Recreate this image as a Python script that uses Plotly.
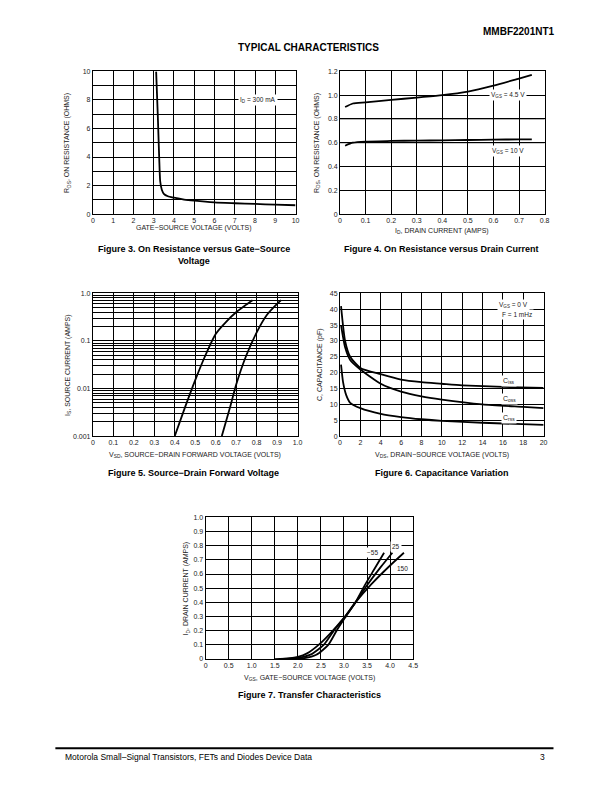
import plotly.graph_objects as go

# ---------------- DATA ----------------
# Figure 3: On resistance vs gate-source voltage (ID = 300 mA)
f3_vgs = [3.12, 3.2, 3.27, 3.32, 3.4, 3.5, 3.7, 4.0, 4.5, 5.0, 6.0, 7.0, 8.0, 9.0, 10.0]
f3_rds = [10.0, 7.0, 4.0, 2.3, 1.7, 1.42, 1.25, 1.15, 1.02, 0.94, 0.82, 0.76, 0.71, 0.66, 0.62]

# Figure 4: On resistance vs drain current
f4_id = [0.02, 0.05, 0.1, 0.2, 0.3, 0.4, 0.5, 0.6, 0.7, 0.75]
f4_r45 = [0.90, 0.93, 0.94, 0.96, 0.98, 1.0, 1.03, 1.08, 1.14, 1.17]
f4_r10 = [0.575, 0.60, 0.61, 0.615, 0.618, 0.62, 0.623, 0.626, 0.628, 0.628]

# Figure 5: Source-drain forward voltage
f5_v1 = [0.40, 0.45, 0.50, 0.55, 0.60, 0.65, 0.70, 0.75, 0.78]
f5_i1 = [0.001, 0.004, 0.015, 0.05, 0.14, 0.25, 0.40, 0.58, 0.72]
f5_v2 = [0.63, 0.67, 0.70, 0.75, 0.80, 0.85, 0.90, 0.92]
f5_i2 = [0.001, 0.004, 0.012, 0.05, 0.15, 0.35, 0.60, 0.72]

# Figure 6: Capacitance variation
f6_v_iss = [0.1, 0.5, 1, 2, 4, 6, 8, 10, 12, 16, 20]
f6_ciss = [41, 30, 25, 21.5, 19.5, 17.8, 17, 16.5, 16, 15.5, 15.2]
f6_v_oss = [0.1, 0.5, 1, 2, 4, 6, 8, 10, 14, 18, 20]
f6_coss = [35, 28, 24, 21, 16.5, 14, 12.5, 11.5, 10, 9.2, 8.8]
f6_v_rss = [0.1, 0.3, 0.6, 1, 2, 4, 6, 8, 10, 14, 20]
f6_crss = [22.5, 17, 13, 10.5, 8.8, 7, 6, 5.3, 4.8, 4.2, 3.5]

# Figure 7: Transfer characteristics (TA = -55, 25, 150 C)
f7_v150 = [1.5, 1.8, 2.0, 2.2, 2.45, 2.7, 3.0, 3.25, 3.6, 4.0, 4.3]
f7_i150 = [0.0, 0.005, 0.015, 0.04, 0.10, 0.18, 0.29, 0.40, 0.53, 0.66, 0.75]
f7_v25 = [1.6, 2.0, 2.3, 2.56, 2.78, 3.0, 3.25, 3.5, 3.8, 4.05]
f7_i25 = [0.0, 0.008, 0.035, 0.10, 0.20, 0.29, 0.40, 0.52, 0.65, 0.75]
f7_vm55 = [1.8, 2.1, 2.4, 2.66, 2.84, 3.0, 3.25, 3.45, 3.65, 3.87]
f7_im55 = [0.0, 0.004, 0.03, 0.10, 0.20, 0.28, 0.40, 0.52, 0.63, 0.75]

# ---------------- LAYOUT HELPERS ----------------
W, H = 600, 776
def px(x):
    return x / W
def py(y):
    return 1 - y / H

FONT = "Liberation Sans, Arial, sans-serif"
TICKF = dict(family=FONT, size=7, color="#222")
GRIDMINOR = dict(showgrid=True, gridcolor="black", gridwidth=1, ticks="")

def axstyle(**kw):
    d = dict(showline=True, mirror=True, linecolor="black", linewidth=1,
             showgrid=True, gridcolor="black", gridwidth=1, zeroline=False,
             ticks="", tickfont=TICKF, fixedrange=True)
    d.update(kw)
    return d

fig = go.Figure()
LINE = dict(color="black", width=1.8, shape="spline", smoothing=0.6)

fig.add_trace(go.Scatter(x=f3_vgs, y=f3_rds, mode="lines", line=LINE, xaxis="x", yaxis="y"))
fig.add_trace(go.Scatter(x=f4_id, y=f4_r45, mode="lines", line=LINE, xaxis="x2", yaxis="y2"))
fig.add_trace(go.Scatter(x=f4_id, y=f4_r10, mode="lines", line=LINE, xaxis="x2", yaxis="y2"))
fig.add_trace(go.Scatter(x=f5_v1, y=f5_i1, mode="lines", line=LINE, xaxis="x3", yaxis="y3"))
fig.add_trace(go.Scatter(x=f5_v2, y=f5_i2, mode="lines", line=LINE, xaxis="x3", yaxis="y3"))
fig.add_trace(go.Scatter(x=f6_v_iss, y=f6_ciss, mode="lines", line=LINE, xaxis="x4", yaxis="y4"))
fig.add_trace(go.Scatter(x=f6_v_oss, y=f6_coss, mode="lines", line=LINE, xaxis="x4", yaxis="y4"))
fig.add_trace(go.Scatter(x=f6_v_rss, y=f6_crss, mode="lines", line=LINE, xaxis="x4", yaxis="y4"))
fig.add_trace(go.Scatter(x=f7_vm55, y=f7_im55, mode="lines", line=LINE, xaxis="x5", yaxis="y5"))
fig.add_trace(go.Scatter(x=f7_v25, y=f7_i25, mode="lines", line=LINE, xaxis="x5", yaxis="y5"))
fig.add_trace(go.Scatter(x=f7_v150, y=f7_i150, mode="lines", line=LINE, xaxis="x5", yaxis="y5"))

# tick labels
f4_xt = [i / 10 for i in range(0, 9)]
f4_xtext = ["0"] + [f"{v:.1f}" for v in f4_xt[1:]]
f4_yt = [i / 5 for i in range(0, 7)]
f4_ytext = ["0"] + [f"{v:.1f}" for v in f4_yt[1:]]

f5_xt = [i / 10 for i in range(0, 11)]
f5_xtext = ["0"] + [f"{v:.1f}" for v in f5_xt[1:]]
f5_yt = [0.001, 0.01, 0.1, 1.0]
f5_ytext = ["0.001", "0.01", "0.1", "1.0"]

f7_xt = [i / 2 for i in range(0, 10)]
f7_xtext = ["0"] + [f"{v:.1f}" for v in f7_xt[1:]]
f7_yt = [i / 10 for i in range(0, 11)]
f7_ytext = ["0"] + [f"{v:.1f}" for v in f7_yt[1:]]

fig.update_layout(
    width=W, height=H, margin=dict(l=0, r=0, t=0, b=0), autosize=False,
    paper_bgcolor="white", plot_bgcolor="white", showlegend=False,
    xaxis=axstyle(domain=[px(92), px(297)], range=[0, 10], dtick=1, tick0=0, anchor="y"),
    yaxis=axstyle(domain=[py(212), py(68)], range=[0, 10], dtick=2, tick0=0,
                  minor=dict(dtick=1, tick0=0, **GRIDMINOR), anchor="x"),
    xaxis2=axstyle(domain=[px(342), px(549)], range=[0, 0.8], tickvals=f4_xt, ticktext=f4_xtext, anchor="y2"),
    yaxis2=axstyle(domain=[py(212), py(68)], range=[0, 1.2], tickvals=f4_yt, ticktext=f4_ytext, anchor="x2"),
    xaxis3=axstyle(domain=[px(92), px(299)], range=[0, 1.0], tickvals=f5_xt, ticktext=f5_xtext, anchor="y3"),
    yaxis3=axstyle(domain=[py(436), py(292)], type="log", range=[-3, 0], tickvals=f5_yt, ticktext=f5_ytext,
                   minor=dict(dtick="D1", **GRIDMINOR), anchor="x3"),
    xaxis4=axstyle(domain=[px(342), px(548)], range=[0, 20], dtick=2, tick0=0, anchor="y4"),
    yaxis4=axstyle(domain=[py(436), py(292)], range=[0, 45], dtick=5, tick0=0, anchor="x4"),
    xaxis5=axstyle(domain=[px(206), px(416)], range=[0, 4.5], tickvals=f7_xt, ticktext=f7_xtext, anchor="y5"),
    yaxis5=axstyle(domain=[py(661), py(518)], range=[0, 1.0], tickvals=f7_yt, ticktext=f7_ytext, anchor="x5"),
)

# gray grid lines in figure 4
for yv in [0.6, 0.8]:
    fig.add_shape(type="line", xref="x2 domain", yref="y2", x0=0, x1=1, y0=yv, y1=yv,
                  line=dict(color="#999", width=1.5), layer="below")

ann = []
def A(x, y, text, size=7, bold=False, angle=0, xanchor="center", bg=None, xref="paper", yref="paper", color="#222"):
    t = f"<b>{text}</b>" if bold else text
    d = dict(x=x, y=y, xref=xref, yref=yref, text=t, showarrow=False,
             font=dict(family=FONT, size=size, color=color), textangle=angle,
             xanchor=xanchor, yanchor="middle")
    if bg:
        d["bgcolor"] = bg
        d["borderpad"] = 1
    ann.append(d)

# header
A(px(562), py(28), "MMBF2201NT1", size=10, bold=True, xanchor="right", color="black")
A(px(310), py(44), "TYPICAL CHARACTERISTICS", size=10, bold=True, color="black")

# axis titles
A(px(194), py(226), "GATE−SOURCE VOLTAGE (VOLTS)")
A(px(66), py(140), "R<sub>DS</sub>, ON RESISTANCE (OHMS)", angle=-90)
A(px(445), py(229), "I<sub>D</sub>, DRAIN CURRENT (AMPS)")
A(px(318), py(140), "R<sub>DS</sub>, ON RESISTANCE (OHMS)", angle=-90)
A(px(195), py(455), "V<sub>SD</sub>, SOURCE−DRAIN FORWARD VOLTAGE (VOLTS)")
A(px(66), py(364), "I<sub>S</sub>, SOURCE CURRENT (AMPS)", angle=-90)
A(px(445), py(455), "V<sub>DS</sub>, DRAIN−SOURCE VOLTAGE (VOLTS)")
A(px(321), py(364), "C, CAPACITANCE (pF)", angle=-90)
A(px(311), py(680), "V<sub>GS</sub>, GATE−SOURCE VOLTAGE (VOLTS)")
A(px(186), py(590), "I<sub>D</sub>, DRAIN CURRENT (AMPS)", angle=-90)

# captions
A(px(194), py(247), "Figure 3. On Resistance versus Gate−Source", size=9, bold=True, color="black")
A(px(194), py(259), "Voltage", size=9, bold=True, color="black")
A(px(445), py(247), "Figure 4. On Resistance versus Drain Current", size=9, bold=True, color="black")
A(px(194), py(473), "Figure 5. Source−Drain Forward Voltage", size=9, bold=True, color="black")
A(px(445), py(473), "Figure 6. Capacitance Variation", size=9, bold=True, color="black")
A(px(311), py(697), "Figure 7. Transfer Characteristics", size=9, bold=True, color="black")

# in-plot labels
A(8.15, 8.0, "I<sub>D</sub> = 300 mA", size=6.5, bg="white", xref="x", yref="y")
A(0.655, 1.0, "V<sub>GS</sub> = 4.5 V", size=6.5, bg="white", xref="x2", yref="y2")
A(0.655, 0.53, "V<sub>GS</sub> = 10 V", size=6.5, bg="white", xref="x2", yref="y2")
A(17.0, 41.2, "V<sub>GS</sub> = 0 V", size=6.5, bg="white", xref="x4", yref="y4")
A(17.4, 38.3, "F = 1 mHz", size=6.5, bg="white", xref="x4", yref="y4")
A(16.6, 17.3, "C<sub>iss</sub>", size=7, bg="white", xref="x4", yref="y4")
A(16.6, 11.8, "C<sub>oss</sub>", size=7, bg="white", xref="x4", yref="y4")
A(16.6, 5.7, "C<sub>rss</sub>", size=7, bg="white", xref="x4", yref="y4")
A(3.62, 0.75, "−55", size=6.5, bg="white", xref="x5", yref="y5")
A(4.12, 0.795, "25", size=6.5, bg="white", xref="x5", yref="y5")
A(4.26, 0.64, "150", size=6.5, bg="white", xref="x5", yref="y5")

# footer
A(px(62), py(760), "Motorola Small–Signal Transistors, FETs and Diodes Device Data", size=8.5, xanchor="left", color="black")
A(px(551), py(760), "3", size=8.5, xanchor="right", color="black")
fig.add_shape(type="line", xref="paper", yref="paper", x0=px(54), x1=px(558), y0=py(751), y1=py(751),
              line=dict(color="black", width=2))

fig.update_layout(annotations=ann)
fig.write_html(
    "out.html",
    config={"displayModeBar": False, "responsive": False, "staticPlot": True},
    post_script=(
        "document.documentElement.style.margin='0';document.documentElement.style.padding='0';"
        "document.documentElement.style.overflow='hidden';"
        "document.body.style.margin='0';document.body.style.padding='0';"
        "document.body.style.overflow='hidden';"
    ),
)
